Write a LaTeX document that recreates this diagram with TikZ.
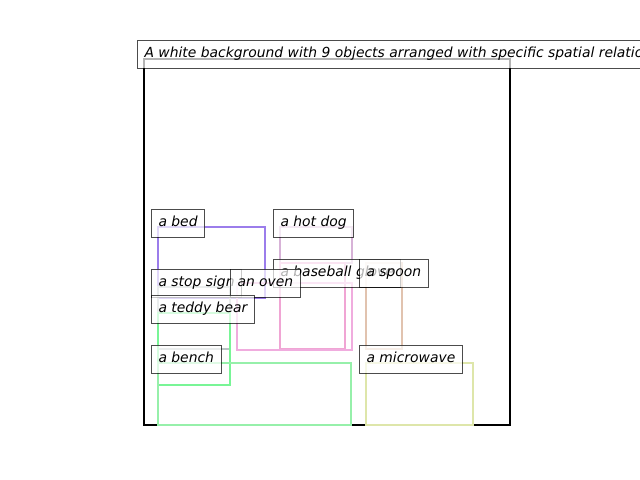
\documentclass[tikz,border=0pt]{standalone}
\usepackage{fontspec}
\setmainfont{DejaVu Sans}
\begin{document}
\begin{tikzpicture}[x=0.72pt,y=-0.72pt,
  lbl/.style={anchor=west, draw=black, draw opacity=0.7, fill=white, fill opacity=0.7,
    text opacity=1, line width=0.72pt, inner xsep=5.04pt, inner ysep=0pt,
    minimum height=20.16pt, text height=7.8pt, text depth=2.1pt,
    font=\fontsize{10pt}{12pt}\selectfont\itshape},
  obj/.style={line width=1.7pt}]
\useasboundingbox (0,0) rectangle (640,480);
\clip (0,0) rectangle (640,480);
\definecolor{cbed}{RGB}{155,125,235}
\definecolor{chotdog}{RGB}{215,178,215}
\definecolor{cglove}{RGB}{240,165,212}
\definecolor{coven}{RGB}{240,172,222}
\definecolor{cspoon}{RGB}{225,195,175}
\definecolor{cstop}{RGB}{185,195,195}
\definecolor{cteddy}{RGB}{120,245,150}
\definecolor{cbench}{RGB}{150,240,170}
\definecolor{cmicro}{RGB}{222,230,170}
\fill[white] (0,0) rectangle (640,480);
% axes frame
\draw[line width=1.7pt] (144,59) rectangle (510,425);
% object boxes
\draw[obj,cbed] (158,227) rectangle (265,298);
\draw[obj,chotdog] (280,227) rectangle (352,263);
\draw[obj,cglove] (280,263) rectangle (345,349);
\draw[obj,coven] (237,283) rectangle (352,350);
\draw[obj,cspoon] (366,263) rectangle (402,349);
\draw[obj,cstop] (158,287) rectangle (230,349);
\draw[obj,cteddy] (158,313) rectangle (230,385);
\draw[obj,cbench] (158,363) rectangle (351,425);
\draw[obj,cmicro] (366,363) rectangle (473,425);
% labels
\node[lbl] (lbed) at (151,223) {a bed};
\node[lbl] (lhotdog) at (273,223) {a hot dog};
\node[lbl] (lglove) at (273,273) {a baseball glove};
\node[lbl] (lspoon) at (359,273) {a spoon};
\node[lbl] (lstop) at (151,283) {a stop sign};
\node[lbl] (loven) at (230,283) {an oven};
\node[lbl] (lteddy) at (151,309) {a teddy bear};
\node[lbl] (lbench) at (151,359) {a bench};
\node[lbl] (lmicro) at (359,359) {a microwave};
% title
\node[lbl] (title) at (137,54) {A white background with 9 objects arranged with specific spatial relations};
\end{tikzpicture}
\end{document}
